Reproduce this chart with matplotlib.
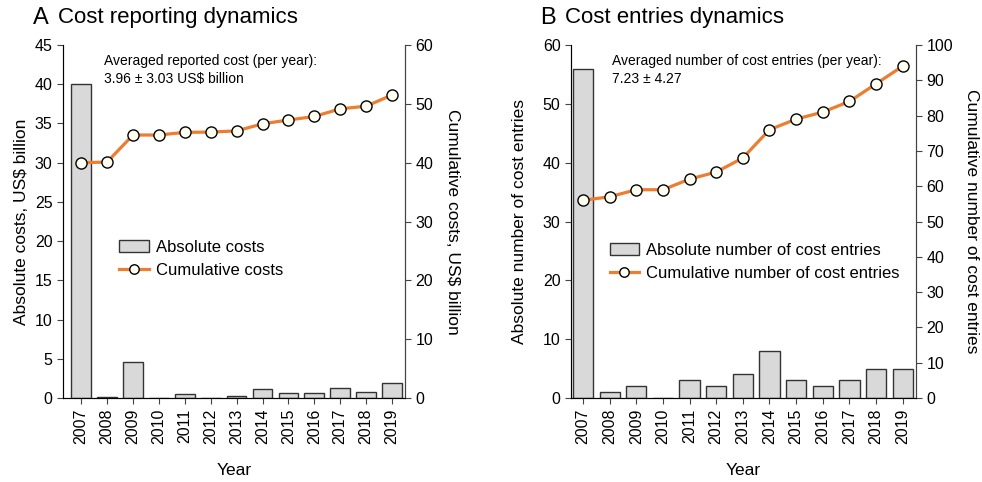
import numpy as np
import matplotlib.pyplot as plt

plt.rcParams['font.family'] = ['Liberation Sans', 'DejaVu Sans']

years = ['2007', '2008', '2009', '2010', '2011', '2012', '2013',
         '2014', '2015', '2016', '2017', '2018', '2019']

# panel A, US$ billion
abs_costs = [40.0, 0.1, 4.6, 0.0, 0.45, 0.05, 0.2, 1.2, 0.65, 0.6, 1.3, 0.75, 1.95]
cum_costs = [40.0, 40.1, 44.7, 44.7, 45.15, 45.2, 45.4, 46.6, 47.25, 47.85, 49.15, 49.6, 51.5]

# panel B, number of entries
abs_entries = [56, 1, 2, 0, 3, 2, 4, 8, 3, 2, 3, 5, 5]
cum_entries = [56, 57, 59, 59, 62, 64, 68, 76, 79, 81, 84, 89, 94]

bar_col = '#d9d9d9'
line_col = '#ed7d31'
fs = 11.5


def panel(ax, bars, cum, ymax_l, step_l, ymax_r, step_r, xlim, ylab_l, ylab_r,
          note, bar_lab, line_lab, leg_pos, lpad):
    x = np.arange(len(years))
    b = ax.bar(x, bars, width=0.76, color=bar_col, edgecolor='#333333',
               linewidth=1.0, label=bar_lab, zorder=2)
    ax.set_xlim(*xlim)
    ax.set_ylim(0, ymax_l)
    ax.set_yticks(np.arange(0, ymax_l + 0.1, step_l))
    ax.set_xticks(x)
    ax.set_xticklabels(years, rotation=90)
    ax.set_xlabel('Year', fontsize=fs + 1, labelpad=14)
    ax.set_ylabel(ylab_l, fontsize=fs + 1, labelpad=lpad)
    ax.spines['top'].set_visible(False)
    for s in ['left', 'right', 'bottom']:
        ax.spines[s].set_color('#444444')
    ax.tick_params(labelsize=fs, direction='out', length=4, color='#444444')

    ax2 = ax.twinx()
    l, = ax2.plot(x, cum, color=line_col, lw=2.3, marker='o', ms=8,
                  markerfacecolor='#fffff2', markeredgecolor='black',
                  markeredgewidth=1.0, label=line_lab, zorder=3)
    ax2.set_ylim(0, ymax_r)
    ax2.set_yticks(np.arange(0, ymax_r + 0.1, step_r))
    ax2.set_ylabel(ylab_r, rotation=270, labelpad=19, fontsize=fs + 1)
    ax2.spines['top'].set_visible(False)
    ax2.spines['right'].set_color('#444444')
    ax2.tick_params(labelsize=fs, direction='out', length=4, color='#444444')

    ax2.text(0.12, 0.975, note, transform=ax.transAxes, ha='left', va='top',
             fontsize=10, linespacing=1.35)
    ax2.legend([b, l], [bar_lab, line_lab], loc='center left',
               bbox_to_anchor=leg_pos, frameon=False, fontsize=fs + 0.5,
               handlelength=1.75, handletextpad=0.45, borderpad=0.2,
               labelspacing=0.5, markerscale=0.85)
    return ax2


fig = plt.figure(figsize=(9.82, 4.82), dpi=100)
axA = fig.add_axes([63 / 982, 1 - 398 / 482, (405 - 63) / 982, (398 - 45) / 482])
axB = fig.add_axes([571 / 982, 1 - 398 / 482, (916 - 571) / 982, (398 - 45) / 482])

panel(axA, abs_costs, cum_costs, 45, 5, 60, 10, (-0.7, 12.5),
      'Absolute costs, US$ billion', 'Cumulative costs, US$ billion',
      'Averaged reported cost (per year):\n3.96 \u00b1 3.03 US$ billion',
      'Absolute costs', 'Cumulative costs', (0.131, 0.394), 4)

panel(axB, abs_entries, cum_entries, 60, 10, 100, 10, (-0.45, 12.5),
      'Absolute number of cost entries', 'Cumulative number of cost entries',
      'Averaged number of cost entries (per year):\n7.23 \u00b1 4.27',
      'Absolute number of cost entries', 'Cumulative number of cost entries',
      (0.078, 0.385), 11)

fig.text(33 / 982, 1 - 18 / 482, 'A', fontsize=17, va='center', ha='left')
fig.text(58 / 982, 1 - 18 / 482, 'Cost reporting dynamics', fontsize=16, va='center', ha='left')
fig.text(540 / 982, 1 - 18 / 482, 'B', fontsize=17, va='center', ha='left')
fig.text(565 / 982, 1 - 18 / 482, 'Cost entries dynamics', fontsize=16, va='center', ha='left')

fig.savefig('out.png', dpi=100)
